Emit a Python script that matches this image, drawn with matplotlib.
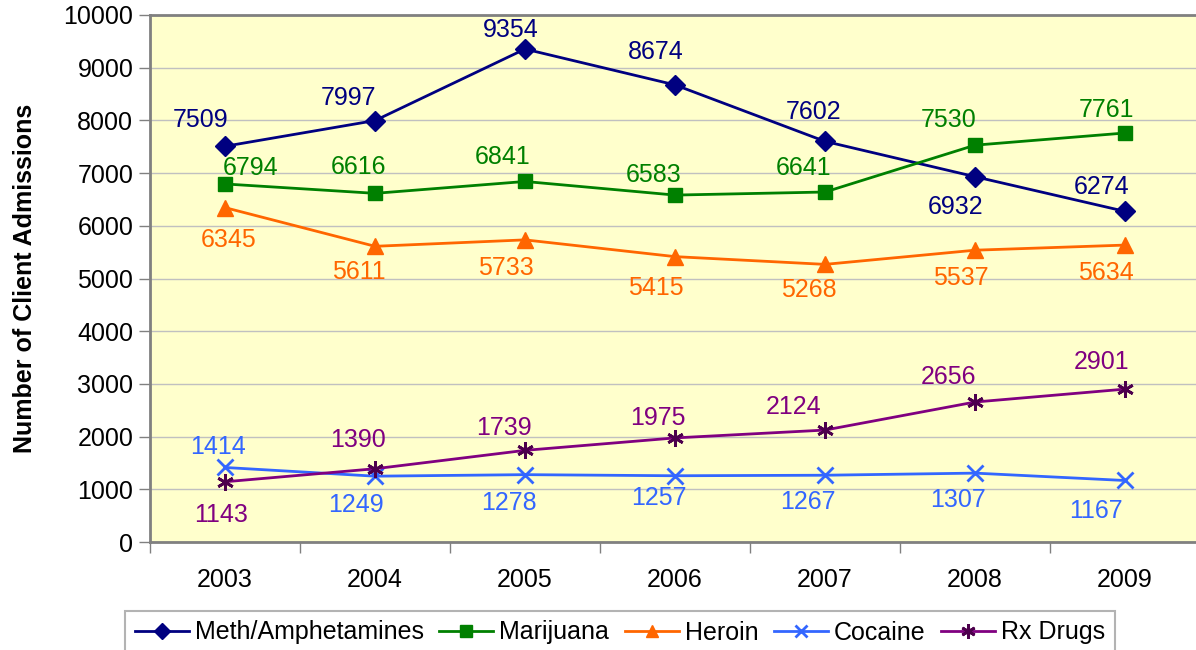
import matplotlib.pyplot as plt
import matplotlib.ticker as mticker

years = ["2003", "2004", "2005", "2006", "2007", "2008", "2009"]
meth = [7509, 7997, 9354, 8674, 7602, 6932, 6274]
marijuana = [6794, 6616, 6841, 6583, 6641, 7530, 7761]
heroin = [6345, 5611, 5733, 5415, 5268, 5537, 5634]
cocaine = [1414, 1249, 1278, 1257, 1267, 1307, 1167]
rx_drugs = [1143, 1390, 1739, 1975, 2124, 2656, 2901]

# label offsets in pixels from the point (dx right, dy up), placed by hand like the original
meth_off = [(-24, 26), (-27, 23), (-14, 19), (-19, 33), (-11, 29), (-19, -30), (-23, 24)]
mari_off = [(26, 16), (-16, 26), (-22, 24), (-21, 20), (-21, 24), (-26, 25), (-19, 23)]
her_off = [(4, -32), (-16, -26), (-19, -28), (-19, -31), (-16, -26), (-14, -28), (-19, -28)]
coc_off = [(-7, 20), (-19, -29), (-16, -28), (-16, -22), (-17, -27), (-17, -27), (-29, -31)]
rx_off = [(-4, -33), (-17, 29), (-21, 22), (-17, 20), (-31, 23), (-27, 25), (-23, 27)]

plt.rcParams['font.family'] = ['Liberation Sans', 'DejaVu Sans']
FS = 18

fig = plt.figure(figsize=(11.96, 6.5), dpi=100)
ax = fig.add_axes([150 / 1196, 1 - 542 / 650, 1050 / 1196, 527 / 650])
ax.set_facecolor("#FFFFCC")

x = list(range(len(years)))

series = [
    ("Meth/Amphetamines", meth, "#000080", "#000080", "D", 10, meth_off),
    ("Marijuana", marijuana, "#008000", "#008000", "s", 10, mari_off),
    ("Heroin", heroin, "#FF6600", "#FF6600", "^", 11, her_off),
    ("Cocaine", cocaine, "#3366FF", "#3366FF", "x", 11, coc_off),
    ("Rx Drugs", rx_drugs, "#800080", "#4D004D", (6, 2, 0), 12, rx_off),
]

for name, vals, col, mcol, mk, ms, offs in series:
    ax.plot(x, vals, color=col, lw=2, marker=mk, markersize=ms,
            markerfacecolor=mcol, markeredgecolor=mcol, markeredgewidth=2 if mk in ("x", (6, 2, 0)) else 1,
            label=name, zorder=3)
    for xi, v, (dx, dy) in zip(x, vals, offs):
        ax.annotate(str(v), (xi, v), xytext=(dx * 0.72, dy * 0.72), textcoords="offset points",
                    ha="center", va="center", fontsize=FS, color=col, zorder=4)

ax.set_xlim(-0.5, len(years) - 0.5)
ax.set_ylim(0, 10000)
ax.yaxis.set_major_locator(mticker.MultipleLocator(1000))
ax.grid(axis="y", color="#C0C0C0", lw=1)
ax.set_axisbelow(True)

ax.set_xticks(x)
ax.set_xticklabels(years)
ax.set_xticks([i - 0.5 for i in range(len(years) + 1)], minor=True)
ax.tick_params(axis="x", which="major", length=0, pad=19, labelsize=FS)
ax.tick_params(axis="x", which="minor", length=8, width=1, color="#808080")
ax.tick_params(axis="y", length=8, width=1, color="#808080", pad=4, labelsize=FS)

for s in ax.spines.values():
    s.set_color("#808080")
    s.set_linewidth(2)

ax.set_ylabel("Number of Client Admissions", fontsize=18, fontweight="bold")
ax.yaxis.set_label_coords(-113 / 1050, 0.5)

leg = fig.legend(loc="upper center", bbox_to_anchor=(620 / 1196, 1 - 611 / 650), ncol=5,
                 fontsize=FS, frameon=True, fancybox=False, edgecolor="#A0A0A0",
                 handlelength=2.15, handletextpad=0.25, columnspacing=0.62, borderpad=0.38,
                 borderaxespad=0, markerscale=0.85)
leg.get_frame().set_linewidth(1.5)

fig.savefig("out.png", dpi=100)
